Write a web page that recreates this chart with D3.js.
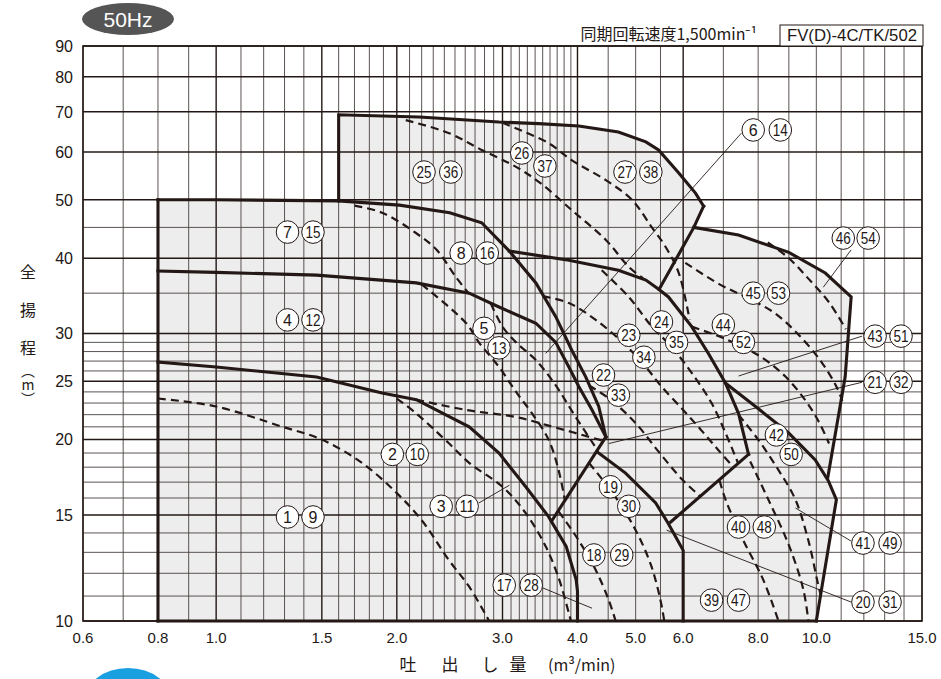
<!DOCTYPE html>
<html><head><meta charset="utf-8">
<script src="https://cdn.jsdelivr.net/npm/d3@7"></script>
<style>body{margin:0;background:#fff}svg{display:block}</style>
</head><body>
<svg id="c" width="941" height="679"></svg>
<script>
// ---------- axis data ----------
const xTickVals=[0.6,0.8,1.0,1.5,2.0,3.0,4.0,5.0,6.0,8.0,10.0,15.0];
const xTickText=["0.6","0.8","1.0","1.5","2.0","3.0","4.0","5.0","6.0","8.0","10.0","15.0"];
const yTickVals=[10,15,20,25,30,40,50,60,70,80,90];
const xGrid=[0.6,0.7,0.8,0.9,1.0,1.1,1.2,1.3,1.4,1.5,1.6,1.7,1.8,1.9,2.0,2.1,2.2,2.3,2.4,2.5,2.6,2.7,2.8,2.9,3.0,3.1,3.2,3.3,3.4,3.5,3.6,3.7,3.8,3.9,4.0,4.5,5.0,5.5,6.0,7.0,8.0,9.0,10,11,12,13,14,15];
const xGridMajor=[1.0,1.5,2.0,3.0,4.0,6.0];
const yGrid=[10,11,12,13,14,15,16,17,18,19,20,21,22,23,24,25,26,27,28,29,30,35,40,45,50,60,70,80,90];
const yGridMajor=[10,15,20,25,30,40,50,60,70,80,90];

// ---------- boundary curves (Q m3/min, H m) ----------
const curveA=[[0.8,26.9],[1.0,26.4],[1.47,25.4],[1.89,23.9],[2.155,23.3],[2.64,21.0],[2.96,19.0],[3.28,16.7],[3.58,14.9],[3.83,13.3],[3.98,11.7],[4.0,11.2],[4.0,10]];
const curveF=[[0.8,38.1],[1.0,37.9],[1.47,37.5],[2.155,36.4],[2.64,35.0],[2.96,33.2],[3.41,31.2],[3.68,29.0],[3.87,26.4],[4.02,24.5],[4.23,22.4],[4.46,20.2]];
const curveE=[[0.8,50],[1.0,50],[1.6,49.8],[2.02,49.0],[2.45,47.6],[2.77,45.8],[3.08,41.1],[3.41,36.4],[3.68,32.0],[3.91,28.2],[4.13,25.4],[4.34,22.7],[4.46,20.2]];
const curveT=[[1.6,49.8],[1.6,69.2],[2.18,68.6],[2.96,67.3],[3.45,66.9],[4.02,66.3],[4.68,64.8],[5.2,62.4],[5.46,60.5],[5.9,55.4],[6.29,51.3],[6.49,48.8]];
const lineTK=[[6.49,48.8],[6.25,45.0],[5.47,35.5]];
const curveK=[[6.25,45.0],[7.42,43.7],[9.0,40.9],[10.35,37.8],[11.43,34.5],[11.17,25.4],[10.45,17.3]];
const curveG=[[3.08,41.1],[3.87,39.7],[4.68,38.2],[5.2,36.8],[5.47,35.5],[5.67,34.5],[6.2,30.8],[6.61,27.8],[7.06,24.8],[7.42,22.1],[7.71,18.9]];
const curveJ=[[7.06,24.8],[7.92,22.7],[9.0,20.5],[9.96,18.5],[10.47,17.1],[10.8,15.9],[10.0,10]];
const lineD=[[7.71,18.9],[5.72,14.6]];
const curveC=[[4.31,19.1],[4.81,17.6],[5.40,15.7],[5.67,14.5],[6.0,13.1],[6.0,10]];
const lineB=[[4.46,20.2],[3.63,14.7]];
const edgeLeft=[[0.8,10],[0.8,50]];
const edgeBottom=[[0.8,10],[10.0,10]];

// ---------- dashed (reduced impeller) curves ----------
const dashed=[
 [[0.8,23.4],[1.0,22.7],[1.29,21.0],[1.5,20.0],[1.75,18.3],[2.0,16.3],[2.2,14.7],[2.445,12.6],[2.64,11.4],[2.85,10]],
 [[2.0,23.4],[2.155,22.1],[2.445,19.7],[2.64,18.3],[3.0,16.7],[3.28,15.1],[3.54,13.3],[3.72,11.8],[3.87,10.3],[3.9,10]],
 [[2.155,23.3],[2.61,22.4],[3.16,21.8],[3.58,21.1],[4.42,19.9]],
 [[2.2,36.2],[2.61,31.2],[2.74,29.0],[2.96,26.4],[3.16,24.0],[3.36,22.1],[3.58,20.0],[3.72,17.8],[3.81,15.9]],
 [[2.87,33.6],[3.0,30.8],[3.16,29.0],[3.41,27.1],[3.68,24.6],[3.95,22.0],[4.32,19.2]],
 [[1.70,48.9],[1.89,47.6],[2.155,44.0],[2.33,41.3],[2.51,37.2],[2.64,34.9]],
 [[2.07,67.8],[2.445,64.5],[2.77,60.5],[3.16,56.7],[3.47,53.3],[3.91,48.1],[4.46,42.9],[4.87,38.7],[5.15,37.0]],
 [[3.0,67.1],[3.58,62.1],[3.91,58.2],[4.46,53.9],[4.93,50.0],[5.32,45.0],[5.61,41.75],[5.9,37.8],[6.15,31.6]],
 [[4.39,38.2],[4.87,34.5],[5.32,30.8],[5.74,28.5],[6.2,25.8],[6.69,23.0],[7.06,20.5],[7.42,18.2]],
 [[3.5,34.6],[3.87,33.7],[4.29,31.6],[4.81,28.7],[5.2,26.4],[5.52,24.5],[6.0,22.4],[6.44,20.7],[6.87,19.2],[7.28,18.0]],
 [[4.18,24.6],[4.54,23.3],[5.0,21.3],[5.46,19.1],[6.0,17.1],[6.41,16.1]],
 [[3.72,15.2],[4.02,13.6],[4.29,12.15],[4.51,10.83],[4.63,10]],
 [[4.18,18.3],[4.6,16.2],[5.0,14.15],[5.30,12.4],[5.5,10.83],[5.58,10]],
 [[7.42,22.0],[8.0,20.0],[8.65,17.8],[9.23,15.9],[9.7,13.6],[10.05,11.6],[10.2,10.9]],
 [[7.76,18.4],[8.32,15.9],[9.0,13.36],[9.51,11.3],[9.7,10]],
 [[6.9,17.1],[7.06,15.9],[7.56,13.6],[8.16,11.7],[8.65,10]],
 [[8.3,42.5],[9.0,40.0],[9.7,37.0],[10.5,33.8],[11.2,30.5]],
 [[6.05,39.3],[6.9,36.2],[7.71,34.3],[8.5,32.5],[9.3,30.0],[10.2,26.9],[10.8,24.5],[11.05,23.2]],
 [[6.2,30.8],[7.1,29.3],[8.1,27.4],[8.9,25.4],[9.6,23.2],[10.1,21.4],[10.5,19.7]]
];

// ---------- circled labels ----------
const labelNums=[1,9,2,10,3,11,4,12,5,13,6,14,7,15,8,16,17,28,18,29,19,30,20,31,21,32,22,33,23,34,24,35,25,36,26,37,27,38,39,47,40,48,41,49,42,50,43,51,44,52,45,53,46,54];
const labelQ=[1.315,1.45,1.966,2.163,2.371,2.619,1.315,1.45,2.795,2.96,7.85,8.71,1.315,1.45,2.56,2.83,3.02,3.35,4.26,4.74,4.54,4.87,11.96,13.27,12.53,13.84,4.42,4.68,4.87,5.16,5.52,5.85,2.22,2.46,3.23,3.53,4.80,5.30,6.69,7.42,7.42,8.19,11.96,13.27,8.58,9.08,12.53,13.84,7.0,7.56,7.85,8.65,11.09,12.2];
const labelH=[14.88,14.88,18.9,18.9,15.5,15.5,31.6,31.6,30.6,28.4,65.3,65.3,44.2,44.2,40.8,40.8,11.47,11.47,12.87,12.87,16.7,15.5,10.75,10.75,24.9,24.9,25.6,23.7,29.8,27.4,31.35,29.0,55.6,55.6,59.8,56.9,55.6,55.6,10.83,10.83,14.32,14.32,13.47,13.47,20.36,18.9,29.7,29.7,31.0,29.0,35.0,35.0,43.2,43.2];
const leaders=[
 [[2.74,15.7],[3.08,16.8]],
 [[7.5,64.5],[3.54,27.8]],
 [[3.50,11.35],[4.23,10.5]],
 [[11.43,10.75],[5.63,14.15]],
 [[11.92,24.9],[4.51,19.7]],
 [[11.92,29.7],[7.42,25.5]],
 [[11.43,41.3],[10.27,35.8]],
 [[11.43,13.57],[9.23,15.4]]
];

// ---------- drawing ----------
const ink="#231815";
const svg=d3.select("#c");
const x=d3.scaleLog().domain([0.6,15]).range([83,922]);
const y=d3.scaleLog().domain([10,90]).range([621,46]);
const line=d3.line().x(d=>x(d[0])).y(d=>y(d[1]));
const smooth=d3.line().x(d=>x(d[0])).y(d=>y(d[1])).curve(d3.curveCatmullRom);

// fill
const fillPoly=[[0.8,10],...curveE.slice(0,3),...curveT.slice(1),...lineTK.slice(1,2),...curveK.slice(1),[10.8,15.9],[10.0,10]];
svg.append("path").attr("d",line(fillPoly)+"Z").attr("fill","#ededed");

// grid
const g=svg.append("g");
g.selectAll("line.vx").data(xGrid).join("line")
 .attr("x1",d=>x(d)).attr("x2",d=>x(d)).attr("y1",y(90)).attr("y2",y(10))
 .attr("stroke",d=>xGridMajor.includes(d)?ink:"#4a4140").attr("stroke-width",d=>xGridMajor.includes(d)?1.4:0.9);
g.selectAll("line.hy").data(yGrid).join("line")
 .attr("y1",d=>y(d)).attr("y2",d=>y(d)).attr("x1",x(0.6)).attr("x2",x(15))
 .attr("stroke",d=>yGridMajor.includes(d)?ink:"#4a4140").attr("stroke-width",d=>yGridMajor.includes(d)?1.5:0.9);
svg.append("rect").attr("x",x(0.6)).attr("y",y(90)).attr("width",x(15)-x(0.6)).attr("height",y(10)-y(90))
 .attr("fill","none").attr("stroke",ink).attr("stroke-width",1.6);

// thick boundaries
const thick=[curveA,curveF,curveE,curveT,lineTK,curveK,curveG,curveJ,lineD,curveC,lineB,edgeLeft,edgeBottom];
svg.append("g").selectAll("path").data(thick).join("path")
 .attr("d",line).attr("fill","none").attr("stroke",ink).attr("stroke-width",3.1)
 .attr("stroke-linejoin","miter").attr("stroke-linecap","square");

// dashed
svg.append("g").selectAll("path").data(dashed).join("path")
 .attr("d",smooth).attr("fill","none").attr("stroke",ink).attr("stroke-width",2.2)
 .attr("stroke-dasharray","8,5");

// leaders
svg.append("g").selectAll("path").data(leaders).join("path")
 .attr("d",line).attr("fill","none").attr("stroke",ink).attr("stroke-width",0.9);

// labels
const lg=svg.append("g").selectAll("g").data(labelNums.map((n,i)=>({n,q:labelQ[i],h:labelH[i]}))).join("g")
 .attr("transform",d=>`translate(${x(d.q)},${y(d.h)})`);
lg.append("circle").attr("r",11.3).attr("fill","#fff").attr("stroke",ink).attr("stroke-width",1);
lg.append("text").text(d=>d.n).attr("text-anchor","middle").attr("dy","0.36em")
 .attr("font-family","Liberation Sans, Arial, sans-serif").attr("font-size",16).attr("fill",ink)
 .each(function(d){ if(d.n>=10) d3.select(this).attr("textLength",15).attr("lengthAdjust","spacingAndGlyphs");});

// axis labels
svg.append("g").selectAll("text").data(xTickVals).join("text")
 .attr("x",d=>x(d)).attr("y",643).attr("text-anchor","middle").text((d,i)=>xTickText[i])
 .attr("font-family","Liberation Sans, Arial, sans-serif").attr("font-size",15).attr("fill",ink);
svg.append("g").selectAll("text").data(yTickVals).join("text")
 .attr("x",73).attr("y",d=>y(d)).attr("dy","0.36em").attr("text-anchor","end").text(d=>d)
 .attr("font-family","Liberation Sans, Arial, sans-serif").attr("font-size",16).attr("fill",ink);

// titles
const cjk="Noto Sans CJK JP, sans-serif";
const yt=["全","揚","程"];
yt.forEach((c,i)=>svg.append("text").attr("x",28).attr("y",278+i*38).attr("text-anchor","middle")
 .attr("font-family",cjk).attr("font-size",16).attr("fill",ink).text(c));
svg.append("text").attr("x",28).attr("y",364)
 .attr("style","writing-mode:vertical-rl;text-orientation:upright")
 .attr("font-family",cjk).attr("font-size",14).attr("fill",ink).text("（m）");

const xt=[["吐",408],["出",450],["し",490],["量",518]];
xt.forEach(([c,px])=>svg.append("text").attr("x",px).attr("y",671).attr("text-anchor","middle")
 .attr("font-family",cjk).attr("font-size",17).attr("fill",ink).text(c));
svg.append("text").attr("x",548).attr("y",671).attr("font-family",cjk).attr("font-size",16).attr("fill",ink).text("(m³/min)");

// top texts
svg.append("text").attr("x",757).attr("y",40).attr("text-anchor","end").attr("font-family",cjk)
 .attr("font-size",16).attr("fill",ink).text("同期回転速度1,500min⁻¹");
svg.append("rect").attr("x",780).attr("y",25).attr("width",143).attr("height",21).attr("fill","#fff").attr("stroke",ink).attr("stroke-width",1);
svg.append("text").attr("x",787).attr("y",41).attr("font-family","Liberation Sans, Arial, sans-serif")
 .attr("font-size",16).attr("textLength",130).attr("lengthAdjust","spacingAndGlyphs").attr("fill",ink).text("FV(D)-4C/TK/502");

// badge
svg.append("ellipse").attr("cx",128).attr("cy",19).attr("rx",46).attr("ry",16).attr("fill","#555");
svg.append("text").attr("x",128).attr("y",26.5).attr("text-anchor","middle").attr("font-family","Liberation Sans, Arial, sans-serif")
 .attr("font-size",21).attr("fill","#fff").text("50Hz");
// blue mark at bottom
svg.append("ellipse").attr("cx",128).attr("cy",702).attr("rx",44).attr("ry",34).attr("fill","#1a9fe0");
</script>
</body></html>
